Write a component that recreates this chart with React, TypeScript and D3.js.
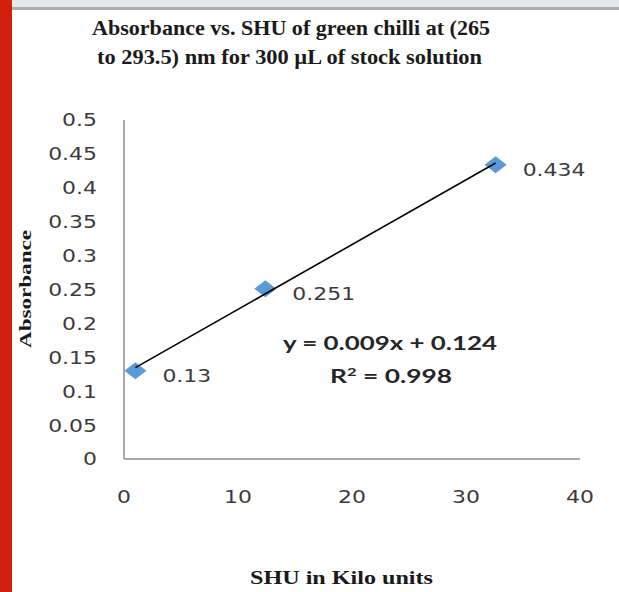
import React from 'react';
import * as d3 from 'd3';

// values
const shu = [1, 12.4, 32.6];
const absorbance = [0.13, 0.251, 0.434];
const pointLabels = ['0.13', '0.251', '0.434'];
const xTicks = [0, 10, 20, 30, 40];
const yTicks = [0, 0.05, 0.1, 0.15, 0.2, 0.25, 0.3, 0.35, 0.4, 0.45, 0.5];
const titleLines = [
  'Absorbance vs. SHU of green chilli at (265',
  'to 293.5) nm for 300 \u00b5L of stock solution',
];
const equationText = 'y = 0.009x + 0.124';
const rSquaredValue = '0.998';

const W = 619;
const H = 592;

export default function App() {
  const x = d3.scaleLinear().domain([0, 40]).range([124, 580]);
  const y = d3.scaleLinear().domain([0, 0.5]).range([459, 120]);

  // least squares fit for the trendline
  const mx = d3.mean(shu) as number;
  const my = d3.mean(absorbance) as number;
  const slope =
    d3.sum(shu, (v, i) => (v - mx) * (absorbance[i] - my)) / d3.sum(shu, v => (v - mx) ** 2);
  const intercept = my - slope * mx;
  const [x0, x1] = d3.extent(shu) as [number, number];
  const trend = d3.line<number>().x(v => x(v)).y(v => y(slope * v + intercept));

  const diamond = d3.symbol().type(d3.symbolDiamond2).size(184)() as string;
  const fmt = (t: number) => `${+t.toFixed(2)}`;
  const tickFont = "'DejaVu Sans', Verdana, sans-serif";
  const serif = "'Liberation Serif', 'Times New Roman', serif";
  // the reference is stretched sideways a little
  const stretch = (px: number) => `translate(${px},0) scale(1.22,1) translate(${-px},0)`;

  return (
    <svg width={W} height={H} style={{ position: 'absolute', left: 0, top: 0, background: '#fff' }}>
      <rect x={0} y={0} width={W} height={H} fill="#fff" />
      <rect x={0} y={0} width={W} height={7} fill="#e3e9f1" />
      <rect x={0} y={7} width={W} height={3} fill="#aaacae" />
      <rect x={0} y={0} width={12} height={H} fill="#d41f0f" />

      {titleLines.map((t, i) => (
        <text
          key={t}
          x={i === 0 ? 92 : 97}
          y={35 + i * 29}
          textLength={i === 0 ? 398 : 385}
          lengthAdjust="spacingAndGlyphs"
          fontFamily={serif}
          fontWeight="bold"
          fontSize={22}
          fill="#1a1a1a"
        >
          {t}
        </text>
      ))}

      {/* axes */}
      <line x1={x(0)} x2={x(0)} y1={y(0.5)} y2={y(0)} stroke="#8c8c8c" strokeWidth={1.5} />
      <line x1={x(0)} x2={x(40)} y1={y(0)} y2={y(0)} stroke="#8c8c8c" strokeWidth={1.5} />

      {yTicks.map(t => (
        <text
          key={t}
          x={97}
          y={y(t)}
          dy="0.36em"
          textAnchor="end"
          fontFamily={tickFont}
          fontSize={18}
          fill="#3c3c3c"
          transform={stretch(97)}
        >
          {fmt(t)}
        </text>
      ))}
      {xTicks.map(t => (
        <text
          key={t}
          x={x(t)}
          y={497}
          dy="0.36em"
          textAnchor="middle"
          fontFamily={tickFont}
          fontSize={18}
          fill="#3c3c3c"
          transform={stretch(x(t))}
        >
          {t}
        </text>
      ))}

      {/* axis titles */}
      <text
        transform={`translate(31,289) rotate(-90)`}
        textAnchor="middle"
        textLength={118}
        lengthAdjust="spacingAndGlyphs"
        fontFamily={serif}
        fontWeight="bold"
        fontSize={16}
        fill="#1a1a1a"
      >
        Absorbance
      </text>
      <text
        x={250}
        y={584}
        textLength={183}
        lengthAdjust="spacingAndGlyphs"
        fontFamily={serif}
        fontWeight="bold"
        fontSize={19}
        fill="#1a1a1a"
      >
        SHU in Kilo units
      </text>

      {/* markers */}
      {shu.map((v, i) => (
        <path
          key={i}
          d={diamond}
          fill="#5b9bd5"
          transform={`translate(${x(v)},${y(absorbance[i])}) scale(1.3,1)`}
        />
      ))}
      <path d={trend([x0, x1]) as string} fill="none" stroke="#000" strokeWidth={1.6} />

      {shu.map((v, i) => (
        <text
          key={i}
          x={x(v) + 27}
          y={y(absorbance[i]) + 5}
          dy="0.36em"
          fontFamily={tickFont}
          fontSize={18}
          fill="#3c3c3c"
          transform={stretch(x(v) + 27)}
        >
          {pointLabels[i]}
        </text>
      ))}

      {/* trendline equation */}
      <text
        x={283}
        y={343}
        dy="0.36em"
        textLength={214}
        lengthAdjust="spacingAndGlyphs"
        fontFamily="Lato, 'Open Sans', sans-serif"
        fontWeight="bold"
        fontSize={19}
        fill="#262626"
      >
        {equationText}
      </text>
      <text
        x={330}
        y={376}
        dy="0.36em"
        textLength={122}
        lengthAdjust="spacingAndGlyphs"
        fontFamily="Lato, 'Open Sans', sans-serif"
        fontWeight="bold"
        fontSize={19}
        fill="#262626"
      >
        R<tspan baselineShift="super" fontSize={12}>2</tspan> = {rSquaredValue}
      </text>
    </svg>
  );
}
